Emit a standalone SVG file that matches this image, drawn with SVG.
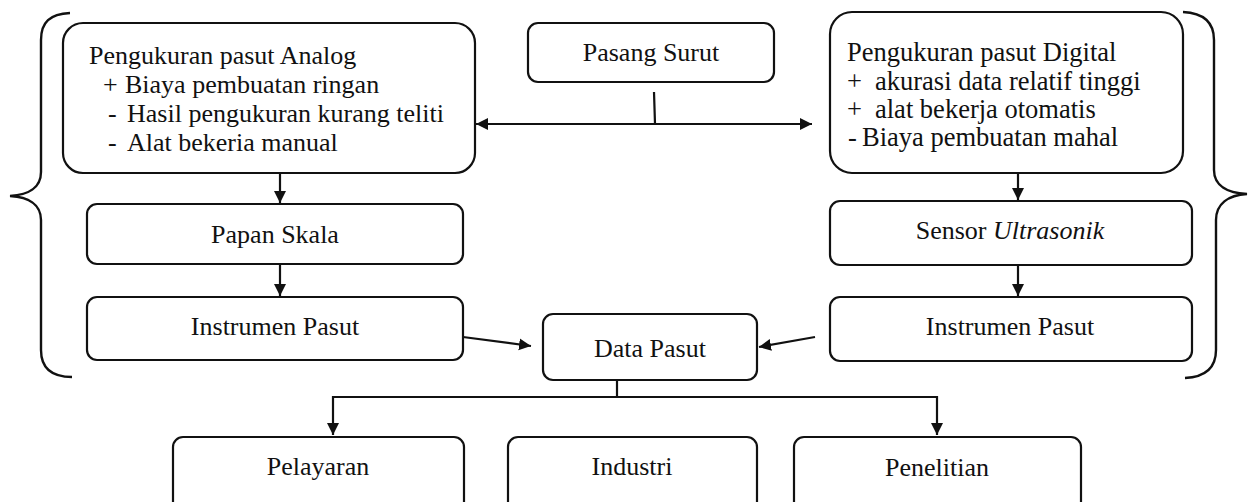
<svg xmlns="http://www.w3.org/2000/svg" width="1253" height="502" viewBox="0 0 1253 502">
<style>
.box{fill:#fff;stroke:#111;stroke-width:2.2}
.t{font-family:"Liberation Serif","Times New Roman",serif;font-size:26px;fill:#111}
.d{font-size:26.5px}
.c{text-anchor:middle}
.ln{fill:none;stroke:#111;stroke-width:2.2}
.br{fill:none;stroke:#111;stroke-width:2.4}
</style>
<defs>
<marker id="ah" viewBox="0 0 10 10" refX="10" refY="5" markerWidth="12" markerHeight="13" markerUnits="userSpaceOnUse" orient="auto-start-reverse">
<path d="M0,0 L10,5 L0,10 z" fill="#111"/>
</marker>
</defs>
<rect width="1253" height="502" fill="#fff"/>
<g id="braces">
<path class="br" d="M70,13 C50,14 41,22 41,40 L41,172 C41,188 28,195 10,196 C28,197 41,204 41,220 L41,350 C41,368 52,377 72,377"/>
<path class="br" d="M1183,12 C1203,13 1214,22 1214,40 L1214,170 C1214,186 1228,193 1247,194 C1228,195 1216,204 1216,220 L1216,350 C1216,368 1205,377 1185,378"/>
</g>
<g id="connectors">
<line class="ln" x1="654" y1="92" x2="655" y2="124"/>
<line class="ln" x1="476" y1="124" x2="812" y2="124" marker-start="url(#ah)" marker-end="url(#ah)"/>
<line class="ln" x1="280" y1="173" x2="280" y2="203" marker-end="url(#ah)"/>
<line class="ln" x1="280" y1="264" x2="280" y2="296" marker-end="url(#ah)"/>
<line class="ln" x1="1018" y1="173" x2="1018" y2="200" marker-end="url(#ah)"/>
<line class="ln" x1="1018" y1="265" x2="1018" y2="296" marker-end="url(#ah)"/>
<line class="ln" x1="463" y1="337" x2="531" y2="346" marker-end="url(#ah)"/>
<line class="ln" x1="815" y1="337" x2="759" y2="347" marker-end="url(#ah)"/>
<line class="ln" x1="617" y1="380" x2="617" y2="397"/>
<line class="ln" x1="333" y1="397" x2="937" y2="397"/>
<line class="ln" x1="333" y1="396" x2="333" y2="435" marker-end="url(#ah)"/>
<line class="ln" x1="937" y1="396" x2="937" y2="435" marker-end="url(#ah)"/>
</g>
<g id="analog">
<rect class="box" x="63" y="23" width="412" height="150" rx="20"/>
<text class="t" x="89" y="64">Pengukuran pasut Analog</text>
<text class="t" x="103" y="93">+</text><text class="t" x="125" y="93">Biaya pembuatan ringan</text>
<text class="t" x="108" y="122">-</text><text class="t" x="127" y="122">Hasil pengukuran kurang teliti</text>
<text class="t" x="108" y="151">-</text><text class="t" x="127" y="151">Alat bekeria manual</text>
</g>
<g id="pasang-surut">
<rect class="box" x="528" y="23" width="246" height="59" rx="10"/>
<text class="t c" x="651" y="61">Pasang Surut</text>
</g>
<g id="digital">
<rect class="box" x="830" y="12" width="353" height="161" rx="22"/>
<text class="t d" x="847" y="61">Pengukuran pasut Digital</text>
<text class="t d" x="847" y="90">+</text><text class="t d" x="875" y="90">akurasi data relatif tinggi</text>
<text class="t d" x="847" y="118">+</text><text class="t d" x="875" y="118">alat bekerja otomatis</text>
<text class="t d" x="848" y="146">-</text><text class="t d" x="862" y="146">Biaya pembuatan mahal</text>
</g>
<g id="papan-skala">
<rect class="box" x="87" y="204" width="376" height="60" rx="10"/>
<text class="t c" x="275" y="243">Papan Skala</text>
</g>
<g id="instrumen-kiri">
<rect class="box" x="87" y="297" width="376" height="63" rx="10"/>
<text class="t c" x="275" y="335">Instrumen Pasut</text>
</g>
<g id="sensor">
<rect class="box" x="830" y="201" width="362" height="64" rx="10"/>
<text class="t c" x="1010" y="239">Sensor <tspan font-style="italic">Ultrasonik</tspan></text>
</g>
<g id="instrumen-kanan">
<rect class="box" x="830" y="297" width="362" height="64" rx="10"/>
<text class="t c" x="1010" y="335">Instrumen Pasut</text>
</g>
<g id="data-pasut">
<rect class="box" x="543" y="314" width="214" height="66" rx="10"/>
<text class="t c" x="650" y="357">Data Pasut</text>
</g>
<g id="pelayaran">
<rect class="box" x="173" y="437" width="291" height="85" rx="10"/>
<text class="t c" x="318" y="475">Pelayaran</text>
</g>
<g id="industri">
<rect class="box" x="508" y="437" width="249" height="85" rx="10"/>
<text class="t c" x="632" y="475">Industri</text>
</g>
<g id="penelitian">
<rect class="box" x="794" y="437" width="287" height="85" rx="10"/>
<text class="t c" x="937" y="476">Penelitian</text>
</g>
</svg>
